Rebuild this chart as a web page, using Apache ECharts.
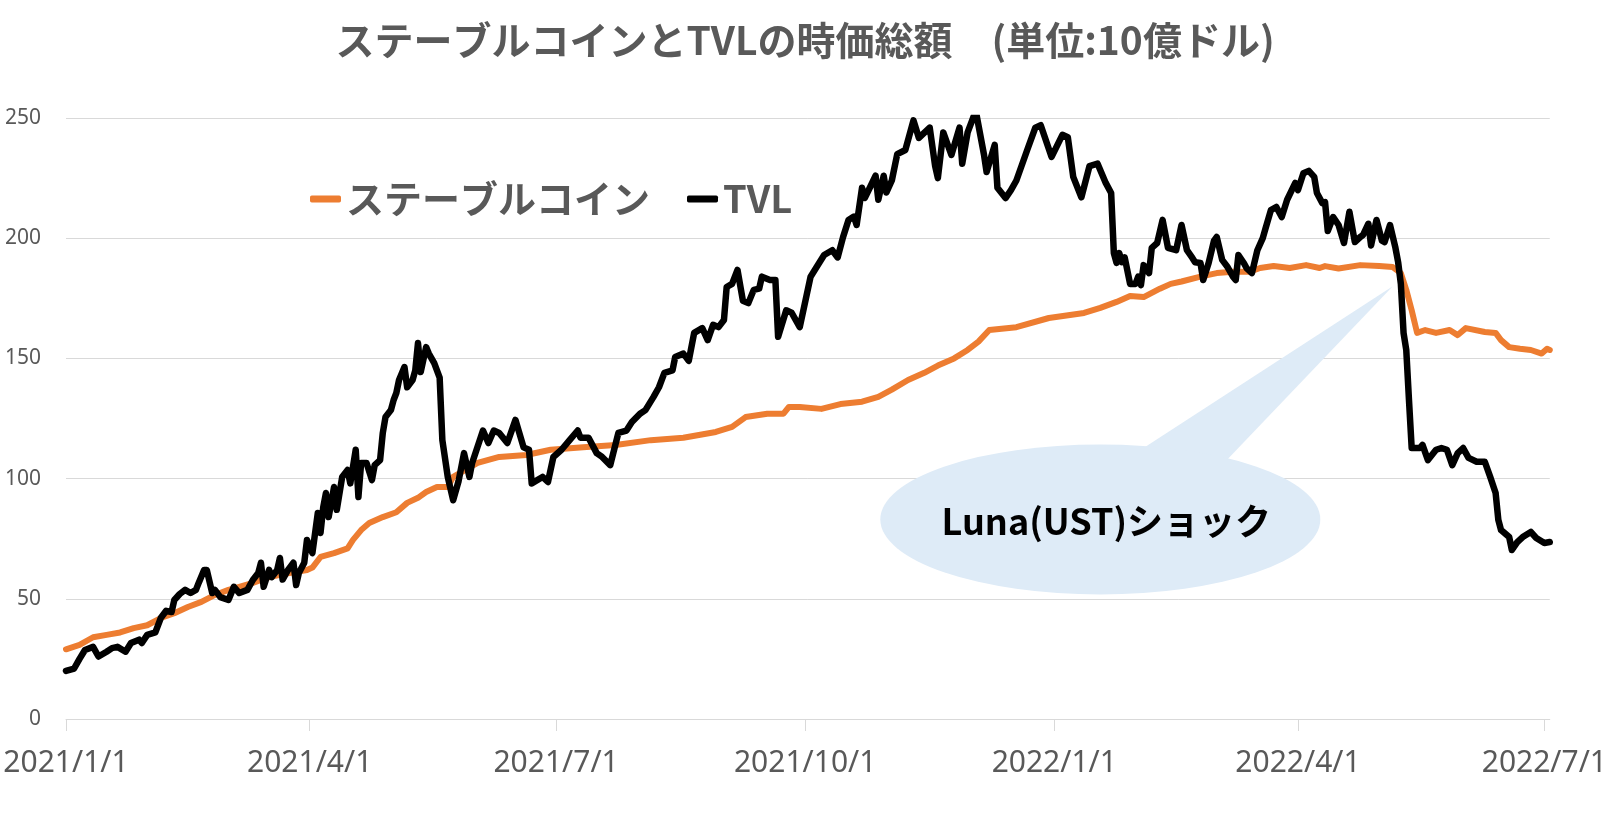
<!DOCTYPE html>
<html><head><meta charset="utf-8">
<script src="https://cdn.jsdelivr.net/npm/echarts@6/dist/echarts.min.js"></script>
<style>html,body{margin:0;padding:0;background:#fff}#c{width:1610px;height:820px}</style>
</head><body><div id="c"></div>
<script>
// ---- data ----
const titleText = 'ステーブルコインとTVLの時価総額　(単位:10億ドル)';
const seriesNames = ['ステーブルコイン', 'TVL'];
const startDate = '2021/1/1';
const endDay = 548;
const xTickLabels = ['2021/1/1', '2021/4/1', '2021/7/1', '2021/10/1', '2022/1/1', '2022/4/1', '2022/7/1'];
const yMin = 0, yMax = 250, yStep = 50;

// days since 2021/1/1
const tvlDays = [0,3,5,7,10,12,15,17,19,22,24,27,28,30,33,35,37,39,40,42,44,46,48,49,51,52,54,55,57,60,62,64,67,69,71,72,73,75,76,78,79,80,82,84,85,86,88,89,91,93,94,95,96,97,99,100,102,104,105,107,108,109,111,113,114,116,117,118,120,121,122,123,125,126,128,129,130,131,133,134,136,138,139,141,143,
145,147,149,150,154,156,158,160,163,166,169,171,172,176,178,180,183,186,189,190,193,196,198,201,204,207,209,212,214,217,219,221,224,225,228,230,232,235,237,239,241,243,244,246,248,250,252,254,256,257,260,262,263,266,268,
271,275,277,280,283,285,287,289,291,292,294,295,297,299,300,302,303,305,307,310,313,315,319,321,322,324,327,330,331,333,336,339,340,343,344,347,349,351,355,358,360,364,368,370,372,375,378,381,384,386,387,388,389,390,391,393,395,396,397,398,400,401,403,405,407,410,412,414,416,417,419,420,422,424,425,427,429,431,432,433,435,436,438,440,442,443,445,447,449,451,454,455,457,459,461,462,464,465,466,468,470,472,474,476,478,479,481,482,484,486,487,489,491,492,493,494,495,496,497,500,501,503,506,508,510,512,514,516,518,521,524,526,528,529,530,533,534,536,538,541,543,546,548];
const tvlValues = [20,21,25,28.7,30,26,28,29.5,30,28,31.6,33,31.6,35,36,42,45,44.5,49.5,52,53.7,52.4,53.7,56.6,62,62,52.4,53.7,50.7,49.5,55,52.4,53.7,57.8,60.7,65,55,62,59,62,67,58,62,65,55.7,60.7,65,74.5,69,85.7,77.4,88,94,84,96.5,87,100.7,103.6,98,112,92.3,106.5,106.5,99.4,105.6,107.7,119,125.6,128.5,132.7,135.6,141,146.4,138,141,145,156.4,144.3,154.7,152,148,142,116,100.7,91,
99,110.6,100.7,106.5,120,114.8,120,119,114.8,124.4,113,112,98,100.7,98.6,109,112,116,120,117,117,110.6,109,105.6,119,120,123.5,127,128.5,134,138,144,145,150.6,152,149,160.6,162.6,157.6,164,163,166,179.7,181,186.8,174,173,178.5,179,184,182.6,182.6,159,170,169,
163,184,187.6,193,195,192,200.5,207.6,209,205.5,221,216.7,221.3,226,216,226,219,224,235,236.7,249,241.7,246,230,225,244,234.6,246,231,244,253,235,227.5,238.8,221,216.7,220,224,236.7,246,247,233.8,243,242,225.5,217,230,231,223,218.8,193.8,189.7,193.8,190,192,181,181,184,180.5,188.8,185.5,196,198,207.6,196,195,205.5,195,191.8,190,189.7,182.6,189.7,199,200.5,191,188,184,182.6,193,189.7,187.6,185.5,195,200,204,211.7,213,208.8,216,223,220,227,228,225.5,218.8,214.6,215,203,208.8,205.5,198,211,198.4,200.5,201.3,206,197,207.6,199,198.4,205.5,196,190,181,160.6,153.5,132.7,112.7,112.7,114,107.7,112,112.7,112,105.6,110.6,112.7,108.6,107,107,100.7,94,82.8,78.6,75.7,70.3,73.6,75.7,77.8,75.3,73.2,73.6];

const stableDays = [0,5,10,15,20,25,30,35,40,45,50,55,60,64,69,74,79,84,89,91,94,99,104,106,109,112,117,122,126,130,133,137,141,143,152,160,170,179,191,203,216,228,240,246,251,259,265,267,271,279,286,294,300,305,311,317,322,328,333,337,341,351,363,376,382,388,393,398,404,408,412,419,425,431,437,441,446,452,458,463,465,470,478,485,490,493,495,497,499,502,506,511,514,517,524,528,530,533,537,541,545,547,548];
const stableValues = [29,30.8,34,35,36,37.8,39,42,44,46.6,48.7,51.6,53.7,55,56.6,58.7,60,61,62,63,67.4,69,71,74.5,78.6,81.5,84,86,89.9,92,94.4,96.5,96.5,100.7,106.5,109,109.8,112,113,114,116,117,119.4,121.5,125.6,127,127,129.8,129.8,129,131,132,134,137,141,144,147,150,153.5,157,161.8,163,166.8,168.9,171,173.5,176,175.5,179,181,182,184,185.5,186,186,187.6,188.4,187.6,188.8,187.6,188.4,187.4,188.8,188.4,188,185.5,178.5,170,160.6,161.8,160.6,161.8,159.7,162.6,161,160.6,157.6,154.7,154,153.5,152,154,153.5];

const calloutText = 'Luna(UST)ショック';
const calloutTip = { day: 490, value: 180 };
const calloutCenter = { day: 382, value: 83 };

// ---- helpers ----
function parseDate(s) { const [y, m, d] = s.split('/').map(Number); return new Date(y, m - 1, d).getTime(); }
function dayToTs(n) { const [y, m, d] = startDate.split('/').map(Number); return new Date(y, m - 1, d + n).getTime(); }
function fmt(v) { const d = new Date(v); return d.getFullYear() + '/' + (d.getMonth() + 1) + '/' + d.getDate(); }

const tickTs = xTickLabels.map(parseDate);
const stableData = stableDays.map((d, i) => [dayToTs(d), stableValues[i]]);
const tvlData = tvlDays.map((d, i) => [dayToTs(d), tvlValues[i]]);

const chart = echarts.init(document.getElementById('c'), null, { renderer: 'canvas' });
const CJK = '"Noto Sans CJK JP", "Noto Sans", sans-serif';
const LAT = '"Noto Sans", "DejaVu Sans", sans-serif';

chart.setOption({
  animation: false,
  backgroundColor: '#ffffff',
  title: {
    text: titleText, left: 'center', top: 16,
    textStyle: { fontFamily: CJK, fontSize: 39, fontWeight: 'bold', color: '#595959' }
  },
  legend: {
    data: seriesNames, left: 305, top: 175, icon: 'roundRect',
    itemWidth: 31, itemHeight: 7, itemGap: 37,
    textStyle: { fontFamily: CJK, fontSize: 38, fontWeight: 'bold', color: '#595959' }
  },
  grid: { left: 66, right: 58, top: 118, bottom: 101, containLabel: false },
  xAxis: {
    type: 'value', min: dayToTs(0), max: dayToTs(endDay),
    axisLine: { show: true, lineStyle: { color: '#D9D9D9', width: 1 } },
    axisTick: { show: true, length: 12, lineStyle: { color: '#D9D9D9' }, customValues: tickTs },
    axisLabel: { customValues: tickTs, formatter: fmt, fontFamily: LAT, fontSize: 30, color: '#595959', margin: 29, showMinLabel: true, showMaxLabel: true, hideOverlap: false },
    splitLine: { show: false }
  },
  yAxis: {
    type: 'value', min: yMin, max: yMax, interval: yStep,
    axisLine: { show: false }, axisTick: { show: false },
    axisLabel: { fontFamily: LAT, fontSize: 21, color: '#595959', margin: 25 },
    splitLine: { lineStyle: { color: '#D9D9D9', width: 1 } }
  },
  series: [
    { name: seriesNames[0], type: 'line', data: stableData, showSymbol: false, color: '#ED7D31',
      lineStyle: { width: 6, color: '#ED7D31', cap: 'round', join: 'round' }, z: 3 },
    { name: seriesNames[1], type: 'line', data: tvlData, showSymbol: false, color: '#000000',
      lineStyle: { width: 6.5, color: '#000000', cap: 'round', join: 'round' }, z: 4 }
  ]
});

const tip = chart.convertToPixel({ gridIndex: 0 }, [dayToTs(calloutTip.day), calloutTip.value]);
const ctr = chart.convertToPixel({ gridIndex: 0 }, [dayToTs(calloutCenter.day), calloutCenter.value]);
chart.setOption({
  graphic: [
    { type: 'polygon', z: 1, shape: { points: [[ctr[0] + 44, ctr[1] - 72], [ctr[0] + 127, ctr[1] - 60], tip] }, style: { fill: '#DEEBF7' } },
    { type: 'circle', z: 1, x: ctr[0], y: ctr[1], scaleY: 75 / 220, shape: { cx: 0, cy: 0, r: 220 }, style: { fill: '#DEEBF7' } },
    { type: 'text', z: 1, x: ctr[0] + 6, y: ctr[1] + 2, style: { text: calloutText, fontFamily: CJK, fontSize: 36, fontWeight: 'bold', fill: '#000000', align: 'center', verticalAlign: 'middle' } }
  ]
});
</script></body></html>
